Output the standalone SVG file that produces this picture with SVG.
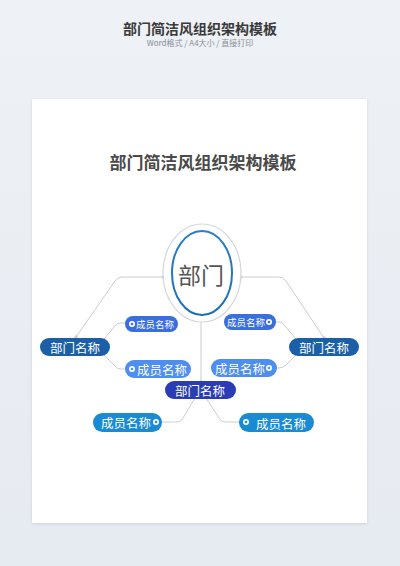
<svg xmlns="http://www.w3.org/2000/svg" width="400" height="566" viewBox="0 0 400 566">
<defs>
<style>
.t{font-family:"Noto Sans CJK SC","Noto Sans",sans-serif;}
.lbl{font-family:"Noto Sans CJK SC","Noto Sans",sans-serif;fill:#fff;text-anchor:middle;dominant-baseline:central;}
.con{fill:none;stroke:#c9cdd5;stroke-width:1;}
.dot{fill:#c9cdd5;}
.ic{fill:#fff;}
</style>
<linearGradient id="bg" x1="0" y1="0" x2="0" y2="1"><stop offset="0" stop-color="#eef1f5"/><stop offset="1" stop-color="#e6eaf1"/></linearGradient>
<linearGradient id="ring" x1="0" y1="0" x2="0" y2="1"><stop offset="0" stop-color="#2a7fc6"/><stop offset="1" stop-color="#1a6fb8"/></linearGradient>
<filter id="sh" x="-10%" y="-10%" width="120%" height="120%"><feDropShadow dx="0" dy="1" stdDeviation="1.5" flood-color="#9aa3b5" flood-opacity="0.35"/></filter>
</defs>
<rect width="400" height="566" fill="url(#bg)"/>
<text class="t" x="200" y="34" font-size="14" font-weight="bold" fill="#3a3a3a" text-anchor="middle">部门简洁风组织架构模板</text>
<text class="t" x="200" y="46" font-size="8" fill="#8a8f98" text-anchor="middle">Word格式 / A4大小 / 直接打印</text>
<rect x="32" y="99" width="335" height="424" fill="#fff" filter="url(#sh)"/>
<text class="t" x="203" y="169" font-size="17" font-weight="bold" fill="#4a4a4a" text-anchor="middle">部门简洁风组织架构模板</text>
<g id="connectors">
<path class="con" d="M163 277 H122 Q118 277 115 281 L76 337"/>
<path class="con" d="M241 277 H279 Q283 277 286 281 L324 338"/>
<path class="con" d="M201 322 V383"/>
<path class="con" d="M104 339 L115 326 Q117 323 121 323 H126"/>
<path class="con" d="M104 355 L115 366 Q117 369 121 369 H126"/>
<path class="con" d="M296 339 L285 326 Q283 322 279 322 H275"/>
<path class="con" d="M296 355 L286 365 Q283 368 279 368 H275"/>
<path class="con" d="M195 398 L183 418 Q181 422 177 422 H161"/>
<path class="con" d="M206 398 L219 418 Q221 422 225 422 H240"/>
<circle class="dot" cx="76" cy="337" r="1.8"/>
<circle class="dot" cx="324" cy="338" r="1.8"/>
<circle class="dot" cx="201" cy="382" r="1.8"/>
<circle class="dot" cx="163" cy="277" r="1.5"/>
<circle class="dot" cx="241" cy="277" r="1.5"/>
</g>
<g id="center">
<ellipse cx="202" cy="273" rx="39" ry="49" fill="#fff" stroke="#d3d6dc" stroke-width="1.2"/>
<ellipse cx="202" cy="273" rx="30" ry="42" fill="#fff" stroke="url(#ring)" stroke-width="2"/>
<text class="t" x="201" y="274" font-size="23" fill="#555" text-anchor="middle" dominant-baseline="central">部门</text>
</g>
<g id="dept-left">
<rect x="40" y="338" width="70" height="18" rx="9" fill="#1b5fa6"/>
<text class="lbl" x="75" y="347" font-size="12.5">部门名称</text>
</g>
<g id="dept-right">
<rect x="289" y="338" width="70" height="18" rx="9" fill="#1b5fa6"/>
<text class="lbl" x="324" y="347" font-size="12.5">部门名称</text>
</g>
<g id="dept-bottom">
<rect x="165" y="381" width="71" height="18" rx="9" fill="#2b3db5"/>
<text class="lbl" x="200" y="390" font-size="12.5">部门名称</text>
</g>
<g id="member-l1">
<rect x="125" y="316" width="53" height="16" rx="8" fill="#3a6ee0"/>
<circle class="ic" cx="132" cy="324" r="3"/><circle cx="132" cy="324" r="1.3" fill="#3a6ee0"/>
<text class="lbl" x="155" y="324" font-size="9.5">成员名称</text>
</g>
<g id="member-l2">
<rect x="125" y="360" width="66" height="18" rx="9" fill="#4d8ef0"/>
<circle class="ic" cx="132" cy="369" r="3"/><circle cx="132" cy="369" r="1.3" fill="#4d8ef0"/>
<text class="lbl" x="162" y="369" font-size="12.5">成员名称</text>
</g>
<g id="member-r1">
<rect x="224" y="314" width="52" height="16" rx="8" fill="#3a6ee0"/>
<circle class="ic" cx="269" cy="322" r="3"/><circle cx="269" cy="322" r="1.3" fill="#3a6ee0"/>
<text class="lbl" x="246" y="322" font-size="9.5">成员名称</text>
</g>
<g id="member-r2">
<rect x="211" y="359" width="66" height="18" rx="9" fill="#4d8ef0"/>
<circle class="ic" cx="269" cy="368" r="3"/><circle cx="269" cy="368" r="1.3" fill="#4d8ef0"/>
<text class="lbl" x="240" y="368" font-size="12.5">成员名称</text>
</g>
<g id="member-b1">
<rect x="93" y="413" width="69" height="19" rx="9.5" fill="#1a8bd3"/>
<circle class="ic" cx="156" cy="422" r="3"/><circle cx="156" cy="422" r="1.3" fill="#1a8bd3"/>
<text class="lbl" x="126" y="422" font-size="12.5">成员名称</text>
</g>
<g id="member-b2">
<rect x="239" y="413" width="75" height="19" rx="9.5" fill="#1a8bd3"/>
<circle class="ic" cx="246" cy="422" r="3"/><circle cx="246" cy="422" r="1.3" fill="#1a8bd3"/>
<text class="lbl" x="281" y="423" font-size="12.5">成员名称</text>
</g>
</svg>
